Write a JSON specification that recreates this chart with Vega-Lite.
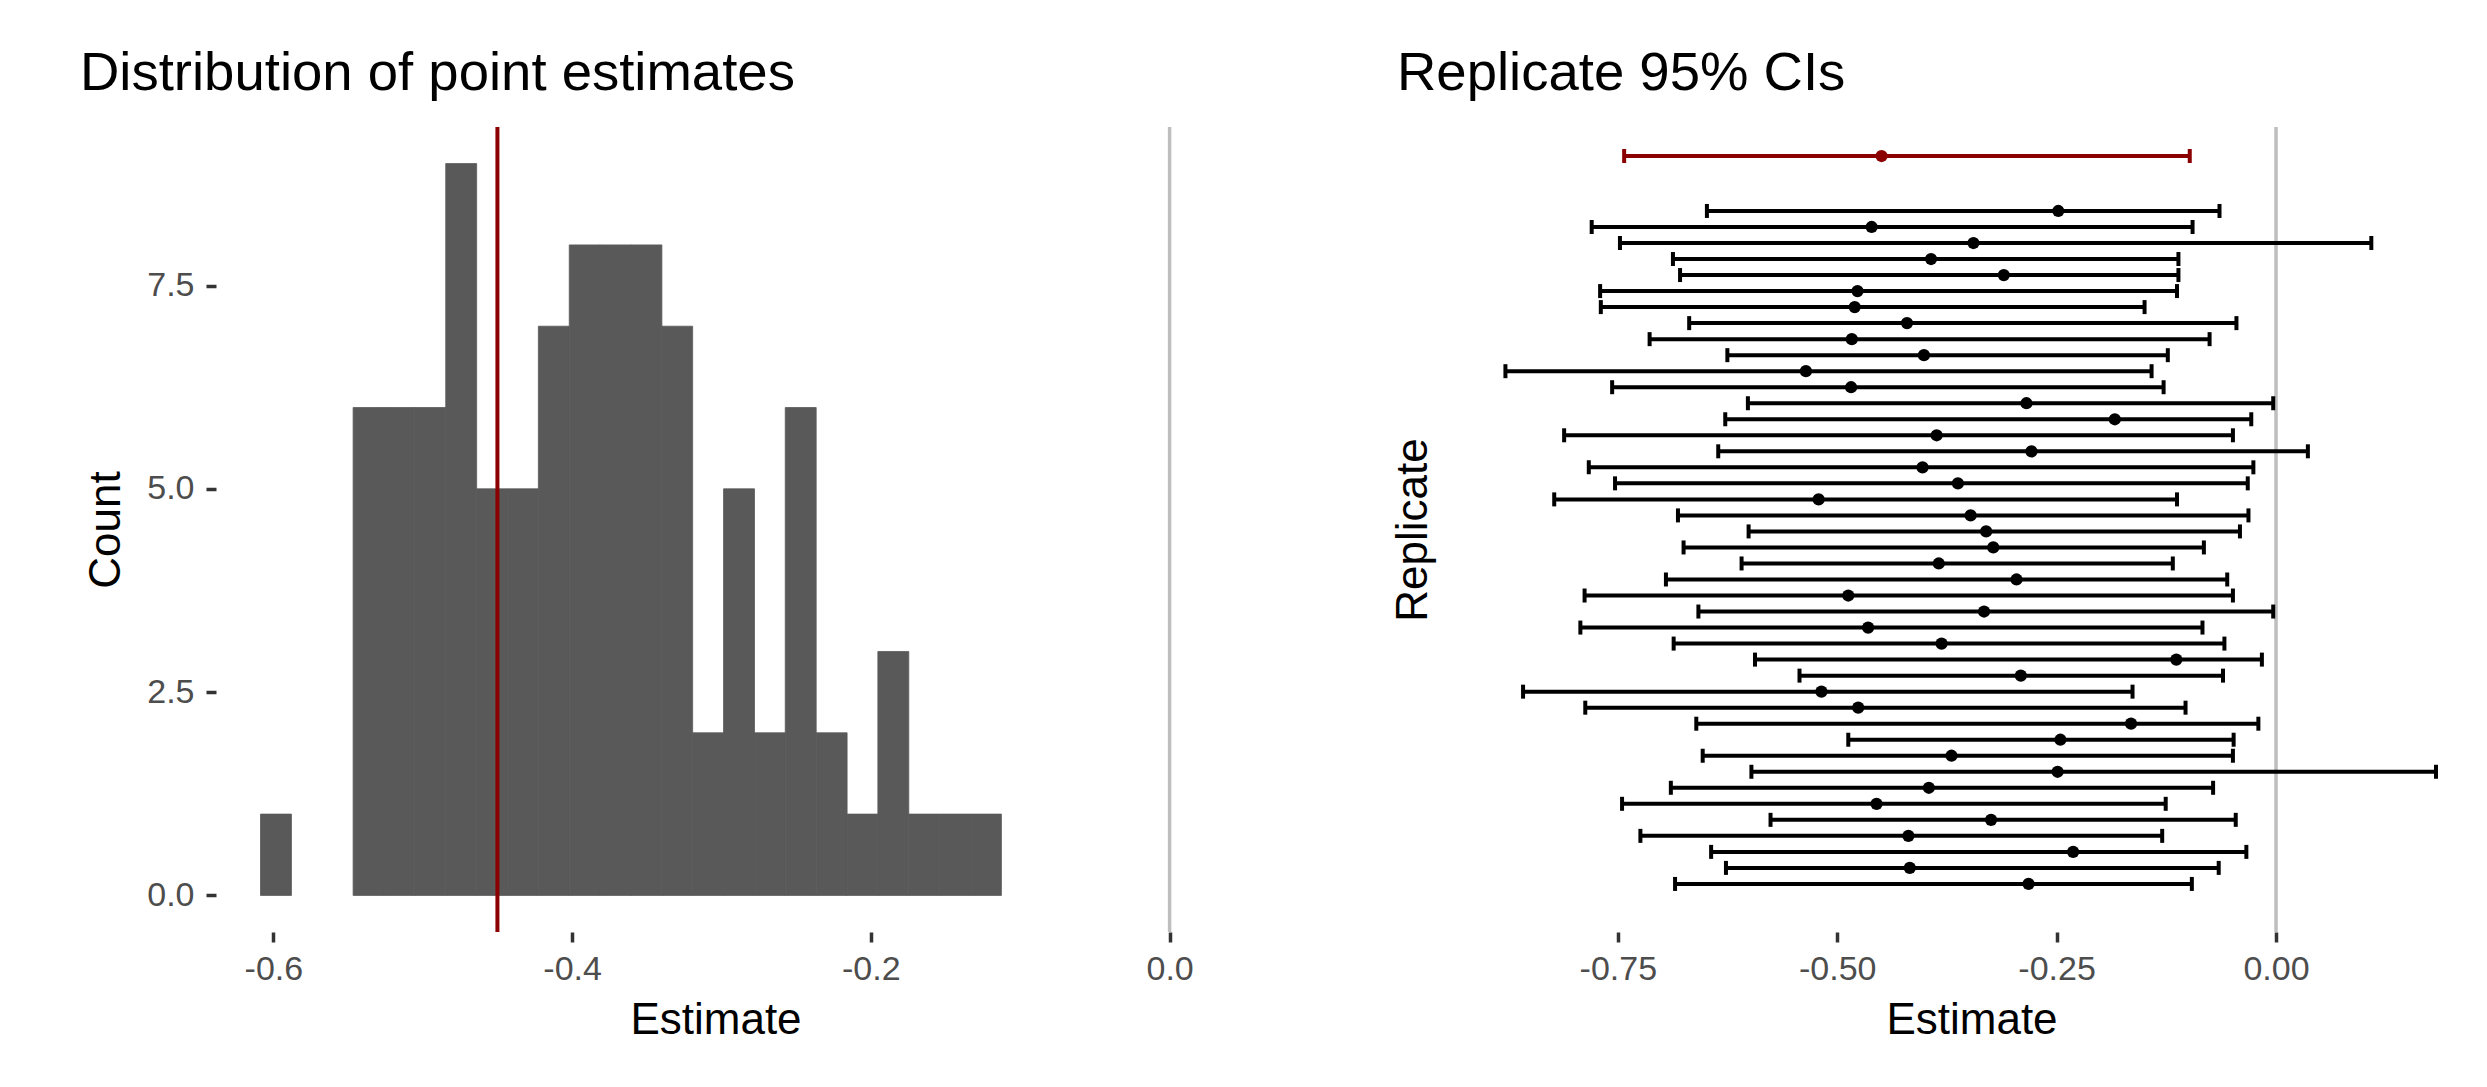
{
  "$schema": "https://vega.github.io/schema/vega-lite/v6.json",
  "autosize": {"type": "none"},
  "padding": {"left": 216, "top": 127, "right": 2271, "bottom": 960},
  "background": "white",
  "spacing": 244,
  "bounds": "flush",
  "config": {
    "font": "Liberation Sans",
    "view": {"stroke": null},
    "axis": {
      "grid": false,
      "domain": false,
      "labelFont": "Liberation Sans",
      "labelFontSize": 34,
      "labelColor": "#4D4D4D",
      "tickColor": "#333333",
      "tickSize": 10,
      "tickWidth": 3.5,
      "labelPadding": 10,
      "titleFont": "Liberation Sans",
      "titleFontSize": 44,
      "titleColor": "#000000",
      "titleFontWeight": "normal"
    },
    "title": {
      "font": "Liberation Sans",
      "fontSize": 54.5,
      "fontWeight": "normal",
      "color": "#000000",
      "anchor": "start",
      "frame": "group",
      "baseline": "alphabetic",
      "offset": 24
    }
  },
  "datasets": {
    "hist": [
      {"bin_start": -0.6086, "bin_end": -0.5879, "count": 1},
      {"bin_start": -0.5466, "bin_end": -0.5259, "count": 6},
      {"bin_start": -0.5259, "bin_end": -0.5053, "count": 6},
      {"bin_start": -0.5053, "bin_end": -0.4846, "count": 6},
      {"bin_start": -0.4846, "bin_end": -0.4639, "count": 9},
      {"bin_start": -0.4639, "bin_end": -0.4433, "count": 5},
      {"bin_start": -0.4433, "bin_end": -0.4226, "count": 5},
      {"bin_start": -0.4226, "bin_end": -0.4019, "count": 7},
      {"bin_start": -0.4019, "bin_end": -0.3813, "count": 8},
      {"bin_start": -0.3813, "bin_end": -0.3606, "count": 8},
      {"bin_start": -0.3606, "bin_end": -0.3399, "count": 8},
      {"bin_start": -0.3399, "bin_end": -0.3193, "count": 7},
      {"bin_start": -0.3193, "bin_end": -0.2986, "count": 2},
      {"bin_start": -0.2986, "bin_end": -0.2779, "count": 5},
      {"bin_start": -0.2779, "bin_end": -0.2573, "count": 2},
      {"bin_start": -0.2573, "bin_end": -0.2366, "count": 6},
      {"bin_start": -0.2366, "bin_end": -0.2159, "count": 2},
      {"bin_start": -0.2159, "bin_end": -0.1953, "count": 1},
      {"bin_start": -0.1953, "bin_end": -0.1746, "count": 3},
      {"bin_start": -0.1746, "bin_end": -0.1539, "count": 1},
      {"bin_start": -0.1539, "bin_end": -0.1333, "count": 1},
      {"bin_start": -0.1333, "bin_end": -0.1126, "count": 1}
    ],
    "cis": [
      {"replicate": 46.43, "type": "Pooled", "lo": -0.7428, "est": -0.4495, "hi": -0.0983},
      {"replicate": 43, "type": "Replicate", "lo": -0.6485, "est": -0.2481, "hi": -0.0644},
      {"replicate": 42, "type": "Replicate", "lo": -0.7798, "est": -0.4608, "hi": -0.0951},
      {"replicate": 41, "type": "Replicate", "lo": -0.7476, "est": -0.3448, "hi": 0.1086},
      {"replicate": 40, "type": "Replicate", "lo": -0.6872, "est": -0.3931, "hi": -0.1112},
      {"replicate": 39, "type": "Replicate", "lo": -0.6791, "est": -0.3102, "hi": -0.1112},
      {"replicate": 38, "type": "Replicate", "lo": -0.7702, "est": -0.4769, "hi": -0.1128},
      {"replicate": 37, "type": "Replicate", "lo": -0.7694, "est": -0.4801, "hi": -0.1498},
      {"replicate": 36, "type": "Replicate", "lo": -0.6687, "est": -0.4205, "hi": -0.0451},
      {"replicate": 35, "type": "Replicate", "lo": -0.7138, "est": -0.4834, "hi": -0.0757},
      {"replicate": 34, "type": "Replicate", "lo": -0.6252, "est": -0.4012, "hi": -0.1233},
      {"replicate": 33, "type": "Replicate", "lo": -0.8781, "est": -0.5357, "hi": -0.1418},
      {"replicate": 32, "type": "Replicate", "lo": -0.7565, "est": -0.4842, "hi": -0.1281},
      {"replicate": 31, "type": "Replicate", "lo": -0.6018, "est": -0.2844, "hi": -0.0032},
      {"replicate": 30, "type": "Replicate", "lo": -0.6276, "est": -0.1837, "hi": -0.0282},
      {"replicate": 29, "type": "Replicate", "lo": -0.8112, "est": -0.3867, "hi": -0.0491},
      {"replicate": 28, "type": "Replicate", "lo": -0.6356, "est": -0.2787, "hi": 0.0363},
      {"replicate": 27, "type": "Replicate", "lo": -0.7831, "est": -0.4028, "hi": -0.0258},
      {"replicate": 26, "type": "Replicate", "lo": -0.7532, "est": -0.3625, "hi": -0.0322},
      {"replicate": 25, "type": "Replicate", "lo": -0.8225, "est": -0.5212, "hi": -0.1128},
      {"replicate": 24, "type": "Replicate", "lo": -0.6815, "est": -0.348, "hi": -0.0314},
      {"replicate": 23, "type": "Replicate", "lo": -0.601, "est": -0.3303, "hi": -0.0411},
      {"replicate": 22, "type": "Replicate", "lo": -0.6751, "est": -0.3222, "hi": -0.0822},
      {"replicate": 21, "type": "Replicate", "lo": -0.609, "est": -0.3843, "hi": -0.1176},
      {"replicate": 20, "type": "Replicate", "lo": -0.6952, "est": -0.2957, "hi": -0.0556},
      {"replicate": 19, "type": "Replicate", "lo": -0.7879, "est": -0.4874, "hi": -0.0491},
      {"replicate": 18, "type": "Replicate", "lo": -0.6582, "est": -0.3327, "hi": -0.0032},
      {"replicate": 17, "type": "Replicate", "lo": -0.7927, "est": -0.4648, "hi": -0.0838},
      {"replicate": 16, "type": "Replicate", "lo": -0.6864, "est": -0.3811, "hi": -0.0588},
      {"replicate": 15, "type": "Replicate", "lo": -0.5937, "est": -0.1136, "hi": -0.0161},
      {"replicate": 14, "type": "Replicate", "lo": -0.543, "est": -0.2908, "hi": -0.0604},
      {"replicate": 13, "type": "Replicate", "lo": -0.858, "est": -0.518, "hi": -0.1635},
      {"replicate": 12, "type": "Replicate", "lo": -0.7871, "est": -0.4761, "hi": -0.1031},
      {"replicate": 11, "type": "Replicate", "lo": -0.6606, "est": -0.1652, "hi": -0.0201},
      {"replicate": 10, "type": "Replicate", "lo": -0.4874, "est": -0.2457, "hi": -0.0483},
      {"replicate": 9, "type": "Replicate", "lo": -0.6533, "est": -0.3698, "hi": -0.0491},
      {"replicate": 8, "type": "Replicate", "lo": -0.5978, "est": -0.2489, "hi": 0.1823},
      {"replicate": 7, "type": "Replicate", "lo": -0.6896, "est": -0.3956, "hi": -0.0717},
      {"replicate": 6, "type": "Replicate", "lo": -0.7452, "est": -0.4552, "hi": -0.1257},
      {"replicate": 5, "type": "Replicate", "lo": -0.576, "est": -0.3247, "hi": -0.0459},
      {"replicate": 4, "type": "Replicate", "lo": -0.7243, "est": -0.4189, "hi": -0.1297},
      {"replicate": 3, "type": "Replicate", "lo": -0.6437, "est": -0.2312, "hi": -0.0338},
      {"replicate": 2, "type": "Replicate", "lo": -0.6268, "est": -0.4173, "hi": -0.0653},
      {"replicate": 1, "type": "Replicate", "lo": -0.6848, "est": -0.282, "hi": -0.0959}
    ]
  },
  "hconcat": [
    {
      "width": 999,
      "height": 805,
      "title": {"text": "Distribution of point estimates", "dx": -136},
      "layer": [
        {
          "data": {"name": "hist"},
          "mark": {"type": "bar", "color": "#595959", "stroke": "#595959", "strokeWidth": 0.8},
          "encoding": {
            "x": {
              "field": "bin_start", "type": "quantitative",
              "scale": {"domain": [-0.6384, 0.0304], "nice": false, "zero": false},
              "axis": {"title": "Estimate", "values": [-0.6, -0.4, -0.2, 0], "labelExpr": "replace(format(datum.value, '.1f'), '\u2212', '-')", "titlePadding": 12}
            },
            "x2": {"field": "bin_end"},
            "y": {
              "field": "count", "type": "quantitative",
              "scale": {"domain": [-0.45, 9.45], "nice": false, "zero": false},
              "axis": {"title": "Count", "values": [0, 2.5, 5, 7.5], "labelExpr": "format(datum.value, '.1f')", "labelPadding": 12, "titlePadding": 18}
            },
            "y2": {"datum": 0}
          }
        },
        {
          "data": {"values": [{"xint": 0}]},
          "mark": {"type": "rule", "color": "#BEBEBE", "strokeWidth": 3.5},
          "encoding": {"x": {"field": "xint", "type": "quantitative", "axis": {"title": "Estimate"}}}
        },
        {
          "data": {"values": [{"xint": -0.45}]},
          "mark": {"type": "rule", "color": "#8B0000", "strokeWidth": 4},
          "encoding": {"x": {"field": "xint", "type": "quantitative", "axis": {"title": "Estimate"}}}
        }
      ]
    },
    {
      "width": 1025,
      "height": 805,
      "title": {"text": "Replicate 95% CIs", "dx": -62},
      "layer": [
        {
          "data": {"values": [{"xint": 0}]},
          "mark": {"type": "rule", "color": "#BEBEBE", "strokeWidth": 3.5},
          "encoding": {
            "x": {
              "field": "xint", "type": "quantitative",
              "scale": {"domain": [-0.931, 0.237], "nice": false, "zero": false},
              "axis": {"title": "Estimate", "values": [-0.75, -0.5, -0.25, 0], "labelExpr": "replace(format(datum.value, '.2f'), '\u2212', '-')", "titlePadding": 12}
            }
          }
        },
        {
          "data": {"name": "cis"},
          "mark": {"type": "rule", "strokeWidth": 4},
          "encoding": {
            "x": {"field": "lo", "type": "quantitative", "axis": {"title": "Estimate"}},
            "x2": {"field": "hi"},
            "y": {
              "field": "replicate", "type": "quantitative",
              "scale": {"domain": [-2, 48.24], "nice": false, "zero": false},
              "axis": {"title": "Replicate", "labels": false, "ticks": false, "titlePadding": 24}
            },
            "color": {"field": "type", "type": "nominal", "scale": {"domain": ["Pooled", "Replicate"], "range": ["#8B0000", "#000000"]}, "legend": null}
          }
        },
        {
          "data": {"name": "cis"},
          "mark": {"type": "tick", "orient": "vertical", "size": 14, "thickness": 4, "opacity": 1},
          "encoding": {
            "x": {"field": "lo", "type": "quantitative", "axis": {"title": "Estimate"}},
            "y": {"field": "replicate", "type": "quantitative", "axis": {"title": "Replicate"}},
            "color": {"field": "type", "type": "nominal", "legend": null}
          }
        },
        {
          "data": {"name": "cis"},
          "mark": {"type": "tick", "orient": "vertical", "size": 14, "thickness": 4, "opacity": 1},
          "encoding": {
            "x": {"field": "hi", "type": "quantitative", "axis": {"title": "Estimate"}},
            "y": {"field": "replicate", "type": "quantitative", "axis": {"title": "Replicate"}},
            "color": {"field": "type", "type": "nominal", "legend": null}
          }
        },
        {
          "data": {"name": "cis"},
          "mark": {"type": "point", "filled": true, "size": 150, "opacity": 1},
          "encoding": {
            "x": {"field": "est", "type": "quantitative", "axis": {"title": "Estimate"}},
            "y": {"field": "replicate", "type": "quantitative", "axis": {"title": "Replicate"}},
            "color": {"field": "type", "type": "nominal", "legend": null}
          }
        }
      ]
    }
  ]
}
